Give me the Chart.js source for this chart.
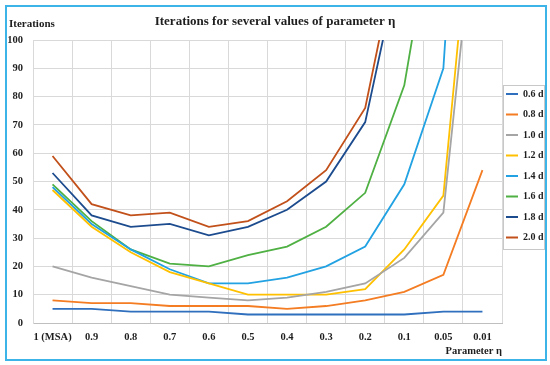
<!DOCTYPE html>
<html>
<head>
<meta charset="utf-8">
<script src="https://cdn.jsdelivr.net/npm/chart.js@4.4.0/dist/chart.umd.min.js"></script>
<style>
    html, body { margin: 0; padding: 0; background: #fff; }
    #wrap { position: relative; width: 550px; height: 365px; }
    #frame {
        position: absolute; left: 5px; top: 5px; width: 542px; height: 356px;
        box-sizing: border-box; border: 2px solid #3db4e8; pointer-events: none;
    }
</style>
</head>
<body>
<div id="wrap">
    <canvas id="chart-eta" width="550" height="365"></canvas>
    <div id="frame"></div>
</div>
<script>
// eta values on the x axis
const categories = ['1 (MSA)', '0.9', '0.8', '0.7', '0.6', '0.5', '0.4', '0.3', '0.2', '0.1', '0.05', '0.01'];
const seriesNames = ['0.6 d', '0.8 d', '1.0 d', '1.2 d', '1.4 d', '1.6 d', '1.8 d', '2.0 d'];
const yTicks = [0, 10, 20, 30, 40, 50, 60, 70, 80, 90, 100];

// iterations per series (values above 100 run off the top of the plot)
const iter06 = [5, 5, 4, 4, 4, 3, 3, 3, 3, 3, 4, 4];
const iter08 = [8, 7, 7, 6, 6, 6, 5, 6, 8, 11, 17, 54];
const iter10 = [20, 16, 13, 10, 9, 8, 9, 11, 14, 23, 39, 170];
const iter12 = [47, 34, 25, 18, 14, 10, 10, 10, 12, 26, 45, 190];
const iter14 = [48, 35, 26, 19, 14, 14, 16, 20, 27, 49, 90, 300];
const iter16 = [49, 36, 26, 21, 20, 24, 27, 34, 46, 84, 165, 400];
const iter18 = [53, 38, 34, 35, 31, 34, 40, 50, 71, 135, 300, 500];
const iter20 = [59, 42, 38, 39, 34, 36, 43, 54, 76, 143, 300, 500];

const allSeries = [iter06, iter08, iter10, iter12, iter14, iter16, iter18, iter20];
const lineColors = ['#2f6fbd', '#f47c22', '#a5a5a5', '#ffc000', '#22a2e2', '#4fb043', '#1c4b8e', '#c1501a'];

const FONT = "'Liberation Serif', 'Times New Roman', serif";
const TEXT = '#1e1e1e';

const datasets = [];
for (let i = 0; i < allSeries.length; i++) {
    datasets.push({
        label: seriesNames[i],
        data: allSeries[i],
        borderColor: lineColors[i],
        backgroundColor: lineColors[i],
        borderWidth: 1.8,
        pointRadius: 0,
        pointHoverRadius: 0,
        tension: 0,
        fill: false
    });
}

// extra text and legend box
const extras = {
    id: 'extras',
    afterLayout: function (chart) {
        const lg = chart.legend;
        const w = lg.width;
        lg.left = 495.5;
        lg.right = lg.left + w;
        lg.top = 78.5;
    },
    afterDraw: function (chart) {
        const ctx = chart.ctx;
        ctx.save();
        ctx.font = "bold 11px " + FONT;
        ctx.fillStyle = TEXT;
        ctx.textAlign = 'left';
        ctx.textBaseline = 'middle';
        ctx.fillText('Iterations', 9, 24.5);

        ctx.strokeStyle = '#c8c8c8';
        ctx.lineWidth = 1;
        ctx.strokeRect(503.5, 85.5, 41, 164);
        ctx.restore();
    }
};

const config = {
    type: 'line',
    data: {
        labels: categories,
        datasets: datasets
    },
    options: {
        responsive: false,
        animation: false,
        layout: {
            padding: { top: 5, right: 0, bottom: 5, left: 0 }
        },
        scales: {
            x: {
                offset: true,
                grid: { color: '#d9d9d9', lineWidth: 1, offset: true, drawTicks: false },
                border: { color: '#bfbfbf' },
                ticks: {
                    autoSkip: false,
                    maxRotation: 0,
                    padding: 8,
                    color: TEXT,
                    font: { family: FONT, size: 10.5, weight: 'bold' }
                },
                title: {
                    display: true,
                    text: 'Parameter η',
                    align: 'end',
                    color: TEXT,
                    padding: { top: 0, bottom: 2 },
                    font: { family: FONT, size: 10.5, weight: 'bold' }
                },
                afterFit: function (scale) {
                    scale.height = 37;
                }
            },
            y: {
                min: 0,
                max: 100,
                grid: { color: '#d9d9d9', lineWidth: 1, drawTicks: false },
                border: { color: '#d9d9d9' },
                afterBuildTicks: function (scale) {
                    scale.ticks = yTicks.map(function (v) { return { value: v }; });
                },
                ticks: {
                    padding: 10,
                    color: TEXT,
                    font: { family: FONT, size: 10.5, weight: 'bold' }
                },
                afterFit: function (scale) {
                    scale.width = 33;
                }
            }
        },
        plugins: {
            title: {
                display: true,
                text: 'Iterations for several values of parameter η',
                color: TEXT,
                padding: { top: 9.2, bottom: 10.2 },
                font: { family: FONT, size: 13, weight: 'bold' }
            },
            legend: {
                position: 'right',
                align: 'start',
                maxWidth: 48,
                labels: {
                    usePointStyle: true,
                    pointStyle: 'line',
                    pointStyleWidth: 12,
                    boxHeight: 10,
                    padding: 10.5,
                    color: TEXT,
                    font: { family: FONT, size: 10, weight: 'bold' }
                }
            },
            tooltip: { enabled: false }
        }
    },
    plugins: [extras]
};

new Chart(document.getElementById('chart-eta'), config);
</script>
</body>
</html>
